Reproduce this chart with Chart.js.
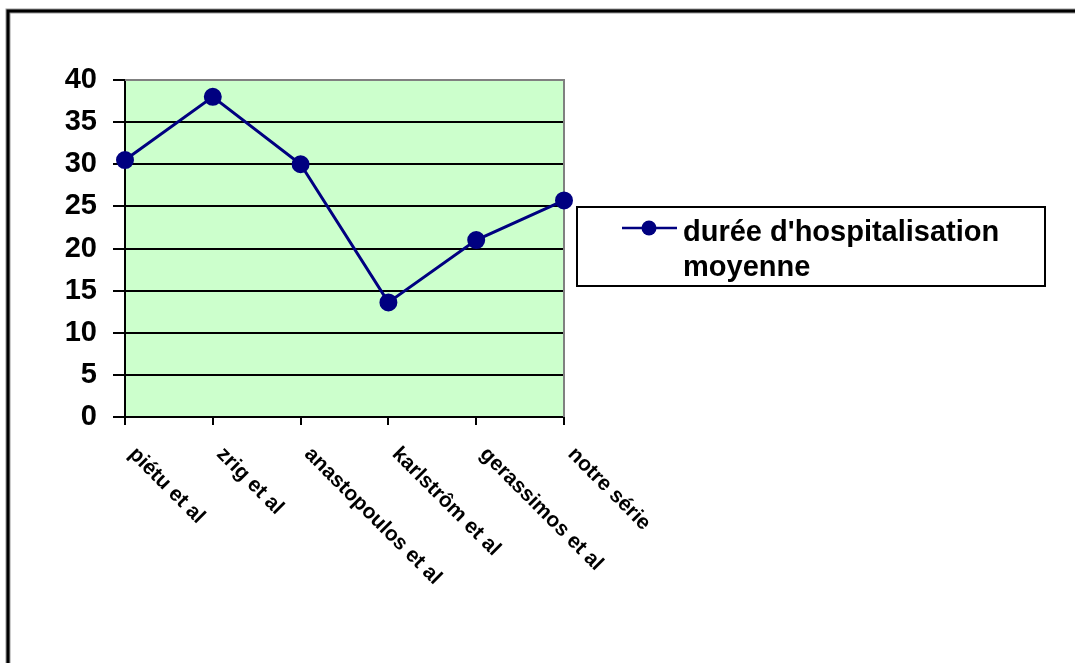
<!DOCTYPE html>
<html>
<head>
<meta charset="utf-8">
<script src="https://cdn.jsdelivr.net/npm/chart.js@4"></script>
<style>
  html, body { margin: 0; padding: 0; background: #fff; }
  #wrap { width: 1075px; height: 663px; position: relative; }
</style>
</head>
<body>
<div id="wrap"><canvas id="hospChart"></canvas></div>
<script>
// Durée d'hospitalisation moyenne par série

const categories = ['piétu et al', 'zrig et al', 'anastopoulos et al', 'karlstrôm et al', 'gerassimos et al', 'notre série'];
const dureeMoyenne = [30.5, 38, 30, 13.6, 21, 25.7];
const seriesLabel = "durée d'hospitalisation moyenne";
const legendLines = ["durée d'hospitalisation", 'moyenne'];
const yTicks = [0, 5, 10, 15, 20, 25, 30, 35, 40];

const NAVY = '#000080';
const FONT = '"Liberation Sans", Arial, sans-serif';

// outer frame (top + left only), plot background
const framePlugin = {
    id: 'frame',
    beforeDraw: function(chart) {
        const ctx = chart.ctx;
        const a = chart.chartArea;
        ctx.save();
        ctx.fillStyle = '#ccffcc';
        ctx.fillRect(a.left, a.top, a.right - a.left, a.bottom - a.top);

        ctx.strokeStyle = '#999';
        ctx.lineWidth = 5;
        ctx.beginPath();
        ctx.moveTo(1075, 11);
        ctx.lineTo(8, 11);
        ctx.lineTo(8, 663);
        ctx.stroke();
        ctx.strokeStyle = '#000';
        ctx.lineWidth = 3;
        ctx.stroke();
        ctx.restore();
    },
    beforeDatasetsDraw: function(chart) {
        // grey border on the right side of the plot
        const ctx = chart.ctx;
        const a = chart.chartArea;
        ctx.save();
        ctx.strokeStyle = '#808080';
        ctx.lineWidth = 2;
        ctx.beginPath();
        ctx.moveTo(a.left, a.top);
        ctx.lineTo(a.right, a.top);
        ctx.lineTo(a.right, a.bottom);
        ctx.stroke();
        ctx.restore();
    }
};

// rotated category labels (reading downwards) + boxed legend
const labelsPlugin = {
    id: 'labelsAndLegend',
    afterDraw: function(chart) {
        const ctx = chart.ctx;
        const xAxis = chart.scales.x;
        ctx.save();
        ctx.fillStyle = '#000';
        ctx.font = 'bold 21px ' + FONT;
        ctx.textAlign = 'left';
        ctx.textBaseline = 'middle';
        chart.data.labels.forEach(function(lbl, i) {
            const x = xAxis.getPixelForValue(i);
            ctx.save();
            ctx.translate(x + 7, xAxis.top + 34);
            ctx.rotate(Math.PI / 4);
            ctx.fillText(lbl, 0, 0);
            ctx.restore();
        });

        // legend box
        ctx.strokeStyle = '#000';
        ctx.lineWidth = 2;
        ctx.strokeRect(577, 207, 468, 79);
        ctx.strokeStyle = NAVY;
        ctx.lineWidth = 2.5;
        ctx.beginPath();
        ctx.moveTo(622, 228);
        ctx.lineTo(677, 228);
        ctx.stroke();
        ctx.fillStyle = NAVY;
        ctx.beginPath();
        ctx.arc(649, 228, 7.5, 0, Math.PI * 2);
        ctx.fill();
        ctx.fillStyle = '#000';
        ctx.font = 'bold 29px ' + FONT;
        ctx.textBaseline = 'alphabetic';
        ctx.fillText(legendLines[0], 683, 241);
        ctx.fillText(legendLines[1], 683, 276);
        ctx.restore();
    }
};

const chartConfig = {
    type: 'line',
    data: {
        labels: categories,
        datasets: [{
            label: seriesLabel,
            data: dureeMoyenne,
            borderColor: NAVY,
            backgroundColor: NAVY,
            borderWidth: 3,
            pointRadius: 7.5,
            pointHoverRadius: 7.5,
            pointBackgroundColor: NAVY,
            pointBorderColor: NAVY,
            tension: 0
        }]
    },
    options: {
        responsive: false,
        animation: false,
        layout: { padding: { left: 0, top: 80, right: 511, bottom: 0 } },
        plugins: {
            legend: { display: false },
            tooltip: { enabled: false }
        },
        scales: {
            x: {
                offset: false,
                grid: {
                    drawOnChartArea: false,
                    drawTicks: true,
                    tickLength: 8,
                    tickColor: '#000',
                    lineWidth: 2
                },
                border: { color: '#000', width: 2 },
                ticks: { display: false },
                afterFit: function(scale) { scale.height = 246; }
            },
            y: {
                min: 0,
                max: 40,
                afterBuildTicks: function(scale) {
                    scale.ticks = yTicks.map(function(v) { return { value: v }; });
                },
                grid: {
                    color: function(c) { return c.tick && c.tick.value === 40 ? '#808080' : '#000'; },
                    tickColor: '#000',
                    lineWidth: 2,
                    tickLength: 12
                },
                border: { color: '#000', width: 2 },
                ticks: {
                    color: '#000',
                    padding: 16,
                    font: { family: FONT, size: 29, weight: 'bold' }
                },
                afterFit: function(scale) { scale.width = 125; }
            }
        }
    },
    plugins: [framePlugin, labelsPlugin]
};

const canvas = document.getElementById('hospChart');
canvas.width = 1075;
canvas.height = 663;
new Chart(canvas.getContext('2d'), chartConfig);
</script>
</body>
</html>
